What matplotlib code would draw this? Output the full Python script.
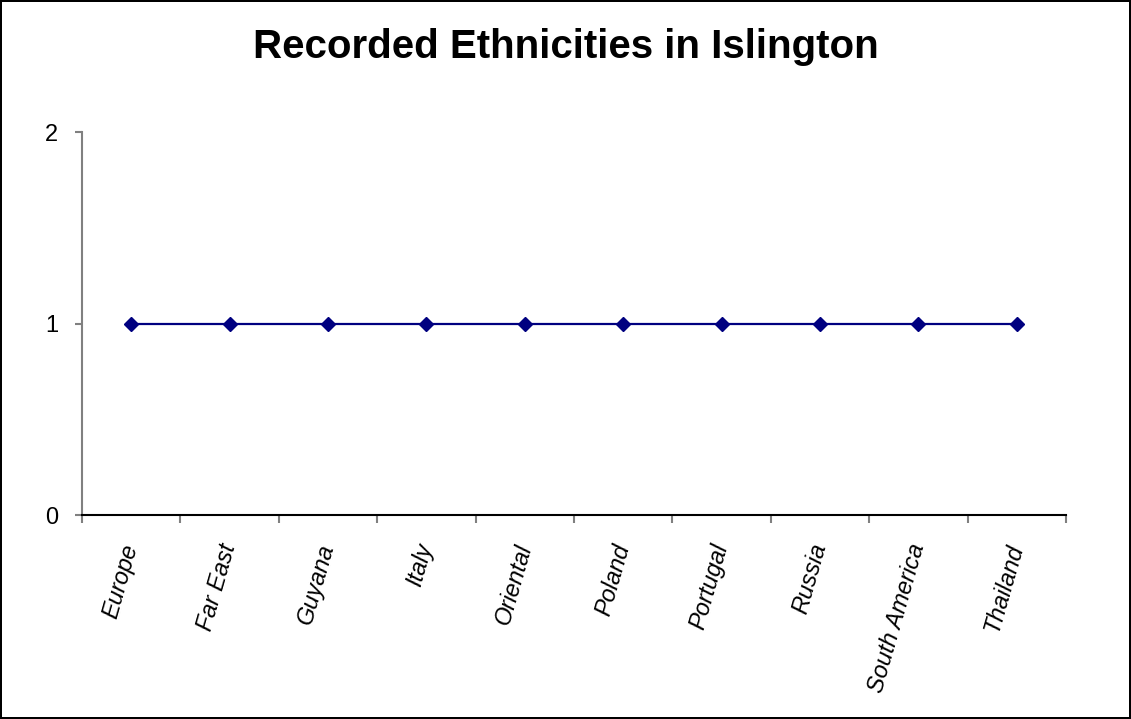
import matplotlib
matplotlib.use('Agg')
import matplotlib.pyplot as plt
import numpy as np

plt.rcParams['font.family'] = ['Liberation Sans', 'DejaVu Sans']

# data
categories = ['Europe', 'Far East', 'Guyana', 'Italy', 'Oriental', 'Poland',
              'Portugal', 'Russia', 'South America', 'Thailand']
counts = [1, 1, 1, 1, 1, 1, 1, 1, 1, 1]
y_ticks = [0, 1, 2]


def configureFig():
    fig = plt.figure(figsize=(11.31, 7.19), dpi=100)
    fig.patch.set_facecolor('white')
    fig.patch.set_edgecolor('black')
    fig.patch.set_linewidth(1.5)
    return fig


def configureAx(fig):
    ax = fig.add_axes([0.0725, 0.2837, 0.87, 0.5327])
    x = np.arange(len(categories))
    ax.plot(x, counts, color='#000080', linewidth=1.6, marker='D',
            markersize=7, markerfacecolor='#000080', markeredgecolor='#000080')
    ax.set_xlim(-0.5, len(categories) - 0.5)
    ax.set_ylim(0, 2)
    ax.set_yticks(y_ticks)
    ax.set_yticklabels([str(v) for v in y_ticks], fontsize=17)

    # category labels at centres, tick marks between categories
    ax.set_xticks(x)
    ax.set_xticklabels(categories, fontsize=17, style='italic',
                       rotation=74, ha='right', va='center',
                       rotation_mode='anchor')
    ax.tick_params(axis='x', which='major', length=0, pad=21)
    ax.set_xticks(np.arange(-0.5, len(categories), 1.0), minor=True)
    ax.tick_params(axis='x', which='minor', length=6, color='#808080', width=1.5)
    ax.tick_params(axis='y', length=5, color='#808080', width=1.5, pad=12)

    ax.spines['top'].set_visible(False)
    ax.spines['right'].set_visible(False)
    ax.spines['left'].set_color('#808080')
    ax.spines['left'].set_linewidth(1.5)
    ax.spines['bottom'].set_color('black')
    ax.spines['bottom'].set_linewidth(1.5)

    fig.text(0.5, 0.934, 'Recorded Ethnicities in Islington', ha='center',
             va='center', fontsize=29, fontweight='bold')
    return ax


def main():
    fig = configureFig()
    configureAx(fig)
    fig.savefig('out.png', dpi=100, facecolor=fig.get_facecolor(),
                edgecolor=fig.get_edgecolor())


if __name__ == '__main__':
    main()
